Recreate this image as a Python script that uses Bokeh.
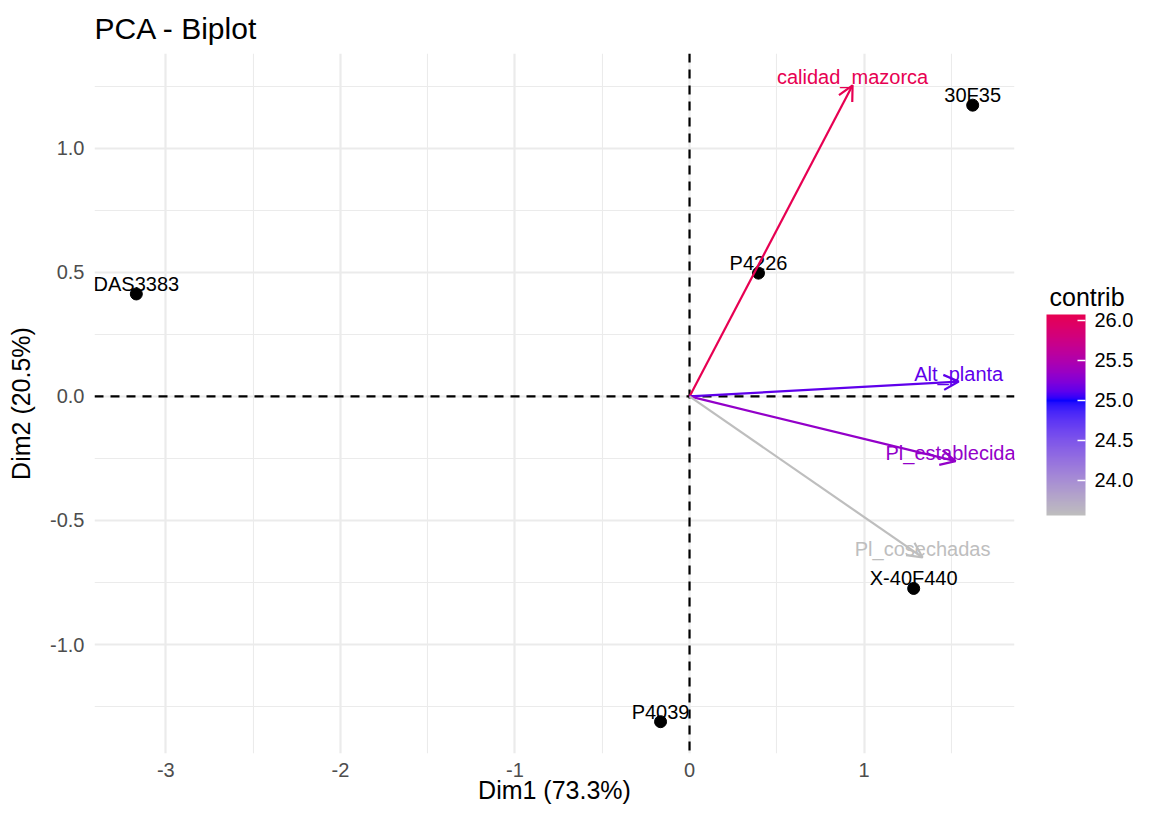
import math
from bokeh.plotting import figure
from bokeh.models import (ColumnDataSource, LinearColorMapper, ColorBar, Arrow, OpenHead,
                          Span, FixedTicker, PrintfTickFormatter)
from bokeh.core.properties import value
from bokeh.embed import file_html
from bokeh.resources import INLINE

# ---------------- data ----------------
ind_names = ["30F35", "P4226", "DAS3383", "X-40F440", "P4039"]
ind_dim1 = [1.622, 0.395, -3.169, 1.284, -0.166]
ind_dim2 = [1.174, 0.497, 0.413, -0.774, -1.311]

var_names = ["calidad_mazorca", "Alt_planta", "Pl_establecidas", "Pl_cosechadas"]
var_dim1 = [0.934, 1.542, 1.524, 1.335]
var_dim2 = [1.254, 0.060, -0.261, -0.649]
var_contrib = [26.06, 25.12, 25.32, 23.56]

x_ticks = [-3, -2, -1, 0, 1]
x_minor = [-2.5, -1.5, -0.5, 0.5, 1.5]
y_ticks = [-1.0, -0.5, 0.0, 0.5, 1.0]
y_minor = [-1.25, -0.75, -0.25, 0.25, 0.75, 1.25]
legend_ticks = [24.0, 24.5, 25.0, 25.5, 26.0]

title_text = "PCA - Biplot"
x_label = "Dim1 (73.3%)"
y_label = "Dim2 (20.5%)"
legend_title = "contrib"

FONT = "Liberation Sans"

# ---------------- Lab colour gradient (grey -> blue -> red) ----------------
def _lin(c):
    c = c / 255.0
    return c / 12.92 if c <= 0.04045 else ((c + 0.055) / 1.055) ** 2.4

def _gam(c):
    c = max(0.0, min(1.0, c))
    v = 12.92 * c if c <= 0.0031308 else 1.055 * c ** (1 / 2.4) - 0.055
    return int(round(max(0.0, min(1.0, v)) * 255))

def hex_to_lab(h):
    h = h.lstrip("#")
    r, g, b = (_lin(int(h[i:i + 2], 16)) for i in (0, 2, 4))
    X = (0.4124564 * r + 0.3575761 * g + 0.1804375 * b) / 0.95047
    Y = (0.2126729 * r + 0.7151522 * g + 0.0721750 * b) / 1.0
    Z = (0.0193339 * r + 0.1191920 * g + 0.9503041 * b) / 1.08883
    f = lambda t: t ** (1 / 3) if t > 0.008856 else 7.787 * t + 16 / 116
    fx, fy, fz = f(X), f(Y), f(Z)
    return (116 * fy - 16, 500 * (fx - fy), 200 * (fy - fz))

def lab_to_hex(lab):
    L, a, b = lab
    fy = (L + 16) / 116
    fx = fy + a / 500
    fz = fy - b / 200
    finv = lambda t: t ** 3 if t ** 3 > 0.008856 else (t - 16 / 116) / 7.787
    X, Y, Z = finv(fx) * 0.95047, finv(fy), finv(fz) * 1.08883
    r = 3.2404542 * X - 1.5371385 * Y - 0.4985314 * Z
    g = -0.9692660 * X + 1.8760108 * Y + 0.0415560 * Z
    bb = 0.0556434 * X - 0.2040259 * Y + 1.0572252 * Z
    return "#%02x%02x%02x" % (_gam(r), _gam(g), _gam(bb))

def lab_gradient(stops, n):
    labs = [hex_to_lab(s) for s in stops]
    out = []
    seg = len(stops) - 1
    for i in range(n):
        t = i / (n - 1) * seg
        k = min(int(t), seg - 1)
        u = t - k
        c = tuple(labs[k][j] + (labs[k + 1][j] - labs[k][j]) * u for j in range(3))
        out.append(lab_to_hex(c))
    return out

mid = 25.0
half = max(abs(c - mid) for c in var_contrib)
palette = lab_gradient(["#BEBEBE", "#0000FF", "#FF0000"], 256)
mapper = LinearColorMapper(palette=palette, low=mid - half, high=mid + half)
cspec = {"field": "contrib", "transform": mapper}

# ---------------- ranges (ggplot 5% expansion) ----------------
xs = ind_dim1 + var_dim1
ys = ind_dim2 + var_dim2
xpad = 0.05 * (max(xs) - min(xs))
ypad = 0.05 * (max(ys) - min(ys))

p = figure(width=1133, height=809,
           x_range=(min(xs) - xpad, max(xs) + xpad),
           y_range=(min(ys) - ypad, max(ys) + ypad),
           output_backend="svg", toolbar_location=None,
           min_border_left=94, min_border_top=53, min_border_bottom=56, min_border_right=119,
           background_fill_color="white", border_fill_color="white",
           outline_line_color=None)

p.title.text = title_text
p.title.text_font = FONT
p.title.text_font_size = "30px"
p.title.text_font_style = "normal"
p.title.text_color = "black"
p.title.align = "left"
p.title.standoff = 18

# grids
for g, tk, mn in ((p.xgrid, x_ticks, x_minor), (p.ygrid, y_ticks, y_minor)):
    g.ticker = FixedTicker(ticks=tk, minor_ticks=mn)
    g.grid_line_color = "#EBEBEB"
    g.grid_line_width = 2.2
    g.minor_grid_line_color = "#EBEBEB"
    g.minor_grid_line_width = 1.1

p.xaxis.ticker = FixedTicker(ticks=x_ticks)
p.yaxis.ticker = FixedTicker(ticks=y_ticks)
p.yaxis.formatter = PrintfTickFormatter(format="%.1f")
p.xaxis.formatter = PrintfTickFormatter(format="%d")
p.xaxis.axis_label = x_label
p.yaxis.axis_label = y_label
for ax in (p.xaxis, p.yaxis):
    ax.axis_line_color = None
    ax.major_tick_line_color = None
    ax.minor_tick_line_color = None
    ax.major_tick_out = 0
    ax.major_tick_in = 0
    ax.minor_tick_out = 0
    ax.minor_tick_in = 0
    ax.major_label_text_font = FONT
    ax.major_label_text_font_size = "20px"
    ax.major_label_text_color = "#4D4D4D"
    ax.axis_label_text_font = FONT
    ax.axis_label_text_font_size = "25px"
    ax.axis_label_text_font_style = "normal"
    ax.axis_label_text_color = "black"
p.xaxis.major_label_standoff = 9
p.yaxis.major_label_standoff = 10
p.xaxis.axis_label_standoff = -4
p.yaxis.axis_label_standoff = 12

# dashed reference lines
for dim in ("height", "width"):
    p.add_layout(Span(location=0, dimension=dim, line_color="black",
                      line_dash="9 7", line_width=2.2, level="underlay"))

# individuals
isrc = ColumnDataSource(dict(x=ind_dim1, y=ind_dim2, label=ind_names))
p.scatter("x", "y", source=isrc, size=12, color="black")
p.text("x", "y", text="label", source=isrc, text_font=value(FONT),
       text_font_size="20px", text_color="black", text_align="center",
       text_baseline="alphabetic", y_offset=-10)

# variables
vsrc = ColumnDataSource(dict(x0=[0.0] * len(var_names), y0=[0.0] * len(var_names),
                             x1=var_dim1, y1=var_dim2, label=var_names,
                             contrib=var_contrib))
p.add_layout(Arrow(x_start="x0", y_start="y0", x_end="x1", y_end="y1", source=vsrc,
                   line_color=cspec, line_width=2.2,
                   end=OpenHead(size=15, line_color=cspec, line_width=2.2)))
p.text("x1", "y1", text="label", source=vsrc, text_font=value(FONT),
       text_font_size="20px", text_color=cspec, text_align="center",
       text_baseline="alphabetic", y_offset=-8)

# colour bar (placed just right of the panel)
cb = ColorBar(color_mapper=mapper, width=39, height=201,
              display_low=min(var_contrib), display_high=max(var_contrib),
              ticker=FixedTicker(ticks=legend_ticks),
              formatter=PrintfTickFormatter(format="%.1f"),
              major_label_text_font=FONT, major_label_text_font_size="20px",
              major_label_text_color="black", label_standoff=9,
              major_tick_line_color="white", major_tick_in=8, major_tick_out=0,
              major_tick_line_width=1.5, bar_line_color=None,
              location=(952, 238), margin=0, padding=0,
              background_fill_color=None, border_line_color=None)
p.add_layout(cb)

# horizontal heading for the colour bar (a transparent horizontal bar carrying the title)
head = ColorBar(color_mapper=mapper, orientation="horizontal", width=75, height=1,
                scale_alpha=0, title=legend_title, title_text_font=FONT,
                title_text_font_size="25px", title_text_font_style="normal",
                title_text_color="black", title_standoff=0,
                ticker=FixedTicker(ticks=[]), major_tick_line_color=None,
                minor_tick_line_color=None, major_label_text_alpha=0,
                bar_line_color=None, location=(955, 442), margin=0, padding=0,
                background_fill_color=None, border_line_color=None)
p.add_layout(head)

open("out.html", "w").write(file_html(p, INLINE))
